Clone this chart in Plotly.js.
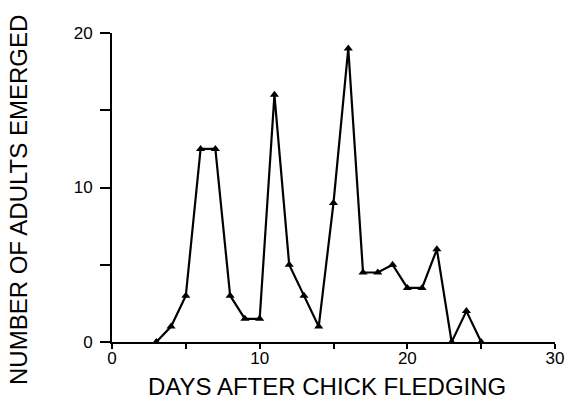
<!DOCTYPE html>
<html>
<head>
<meta charset="utf-8">
<script src="https://cdn.plot.ly/plotly-3.0.1.min.js"></script>
<style>html,body{margin:0;padding:0;background:#fff;}#chart{width:570px;height:409px;}</style>
</head>
<body>
<div id="chart"></div>
<script>
const days = [3, 4, 5, 6, 7, 8, 9, 10, 11, 12, 13, 14, 15, 16, 17, 18, 19, 20, 21, 22, 23, 24, 25];
const adults = [0, 1, 3, 12.5, 12.5, 3, 1.5, 1.5, 16, 5, 3, 1, 9, 19, 4.5, 4.5, 5, 3.5, 3.5, 6, 0, 2, 0];
const xTickVals = [0, 5, 10, 15, 20, 25, 30];
const xTickText = ['0', '', '10', '', '20', '', '30'];
const yTickVals = [0, 5, 10, 15, 20];
const yTickText = ['0', '', '10', '', '20'];
const xTitle = 'DAYS AFTER CHICK FLEDGING';
const yTitle = 'NUMBER OF ADULTS EMERGED';

const font = 'Liberation Sans, Arial, Helvetica, sans-serif';

Plotly.newPlot('chart', [{
  x: days, y: adults, type: 'scatter', mode: 'lines+markers',
  line: {color: '#000', width: 2.2},
  marker: {symbol: 'triangle-up', size: 8, color: '#000'},
  cliponaxis: false, hoverinfo: 'skip'
}], {
  width: 570, height: 409,
  margin: {l: 112, r: 15, t: 33, b: 67},
  paper_bgcolor: '#fff', plot_bgcolor: '#fff',
  showlegend: false,
  font: {family: font, color: '#000'},
  xaxis: {
    range: [0, 30], tickmode: 'array', tickvals: xTickVals, ticktext: xTickText,
    ticks: 'outside', ticklen: 5, tickwidth: 2, tickcolor: '#000',
    ticklabelstandoff: -5,
    showline: true, linewidth: 2, linecolor: '#000',
    showgrid: false, zeroline: false,
    tickfont: {size: 17, family: font}
  },
  yaxis: {
    range: [0, 20], tickmode: 'array', tickvals: yTickVals, ticktext: yTickText,
    ticks: 'outside', ticklen: 10, tickwidth: 2, tickcolor: '#000',
    ticklabelstandoff: 4,
    showline: true, linewidth: 2, linecolor: '#000',
    showgrid: false, zeroline: false,
    tickfont: {size: 17, family: font}
  },
  annotations: [
    {text: xTitle, xref: 'paper', yref: 'paper', x: 0.4853, y: -0.1424,
     xanchor: 'center', yanchor: 'middle', showarrow: false, borderpad: 0,
     font: {size: 24, family: font, color: '#000'}},
    {text: yTitle, xref: 'paper', yref: 'paper', x: -0.2122, y: 0.4595,
     xanchor: 'center', yanchor: 'middle', showarrow: false, textangle: -90, borderpad: 0,
     font: {size: 24, family: font, color: '#000'}}
  ]
}, {staticPlot: true});
</script>
</body>
</html>
